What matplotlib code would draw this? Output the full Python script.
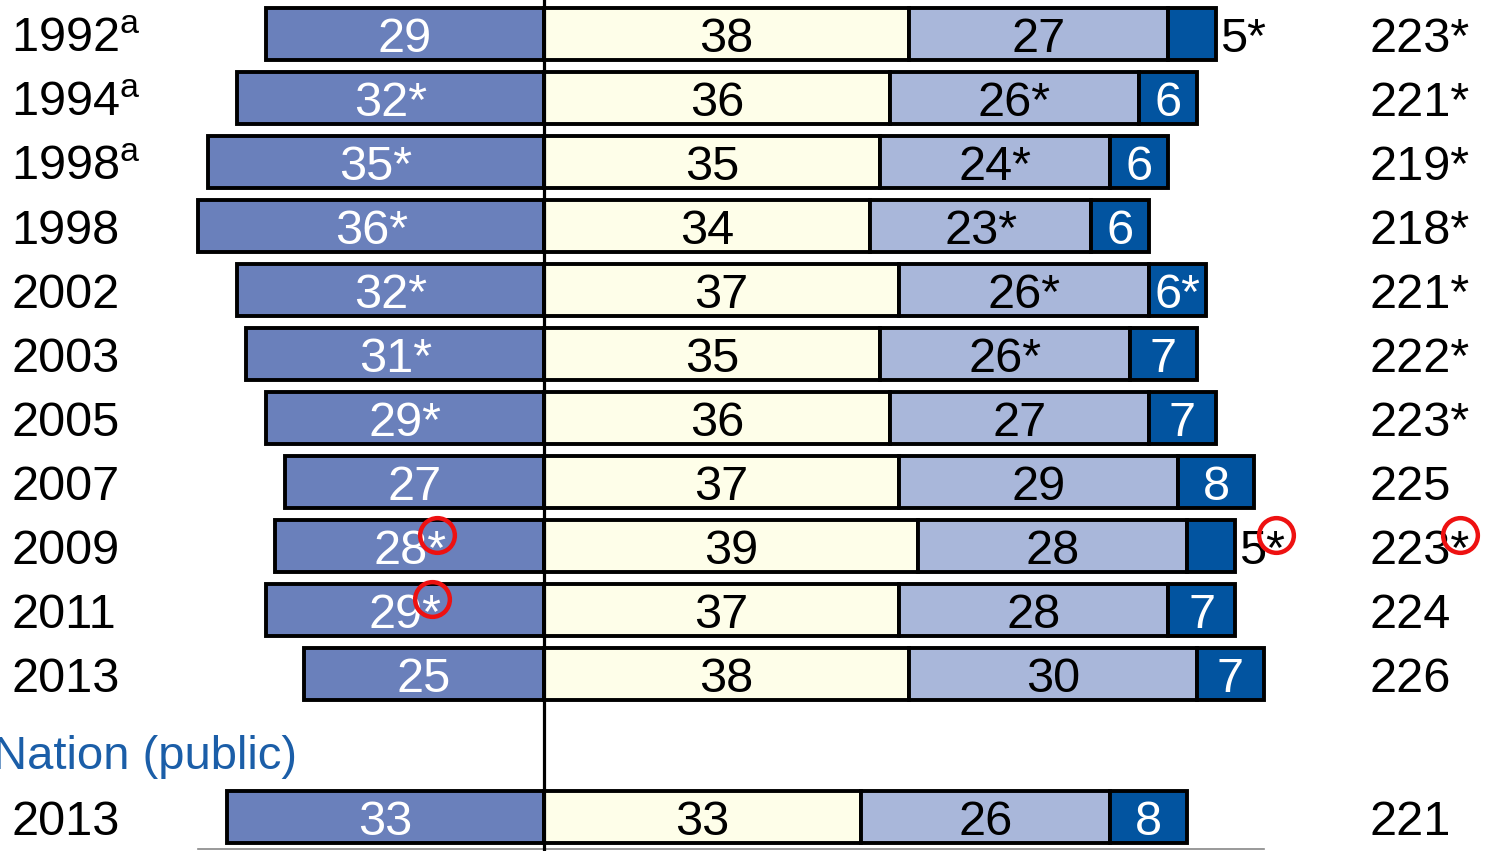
import matplotlib
matplotlib.use('Agg')
import matplotlib.pyplot as plt

plt.rcParams['font.family'] = ['Liberation Sans', 'DejaVu Sans']
plt.rcParams['mathtext.default'] = 'regular'

# achievement-level percentages per year (last row = Nation (public) 2013)
years = ['1992$^{a}$', '1994$^{a}$', '1998$^{a}$', '1998', '2002', '2003', '2005',
         '2007', '2009', '2011', '2013', '2013']
below_basic = [29, 32, 35, 36, 32, 31, 29, 27, 28, 29, 25, 33]
basic = [38, 36, 35, 34, 37, 35, 36, 37, 39, 37, 38, 33]
proficient = [27, 26, 24, 23, 26, 26, 27, 29, 28, 28, 30, 26]
advanced = [5, 6, 6, 6, 6, 7, 7, 8, 5, 7, 7, 8]
scores = [223, 221, 219, 218, 221, 222, 223, 225, 223, 224, 226, 221]

# significance flags (*)
below_sig = [0, 1, 1, 1, 1, 1, 1, 0, 1, 1, 0, 0]
prof_sig = [0, 1, 1, 1, 1, 1, 0, 0, 0, 0, 0, 0]
adv_sig = [1, 0, 0, 0, 1, 0, 0, 0, 1, 0, 0, 0]
score_sig = [1, 1, 1, 1, 1, 1, 1, 0, 1, 0, 0, 0]

# which starred cells get a red circle (row index)
circled_below = [8, 9]
circled_adv = [8]
circled_score = [8]

c_below = '#6a80bb'
c_basic = '#fefee9'
c_prof = '#a9b7da'
c_adv = '#0254a0'
c_nation = '#1b5ea8'

W, H = 1488, 851
px_per_pct = 9.6
x0 = 544          # pixel position of the zero line
row_px = 64
top_px = 34

fig = plt.figure(figsize=(W / 100, H / 100), dpi=100)
ax = fig.add_axes([0, 0, 1, 1])
ax.set_xlim(-x0 / px_per_pct, (W - x0) / px_per_pct)
ax.set_ylim((H - top_px) / row_px, -top_px / row_px)
ax.axis('off')

ypos = list(range(11)) + [(817 - top_px) / row_px]
fs = 35
base_off = 0.275   # baseline offset below row centre

def lab(v, s):
    return f'{v}*' if s else str(v)

h = 0.8
lw = 2.8
right = [b + p + a for b, p, a in zip(basic, proficient, advanced)]
ax.barh(ypos, below_basic, left=[-v for v in below_basic], height=h,
        color=c_below, edgecolor='black', lw=lw)
ax.barh(ypos, basic, left=0, height=h, color=c_basic, edgecolor='black', lw=lw)
ax.barh(ypos, proficient, left=basic, height=h, color=c_prof, edgecolor='black', lw=lw)
ax.barh(ypos, advanced, left=[b + p for b, p in zip(basic, proficient)], height=h,
        color=c_adv, edgecolor='black', lw=lw)

ax.axvline(0, color='black', lw=2.3, zorder=6)
ax.plot([-max(below_basic), max(right)], [(849 - top_px) / row_px] * 2,
        color='#888888', lw=1.2, clip_on=False)

texts_below, texts_adv, texts_score = {}, {}, {}
for i, y in enumerate(ypos):
    yb = y + base_off
    ax.text(-55.5, yb, years[i], fontsize=fs, ha='left', va='baseline')
    texts_below[i] = ax.text(-below_basic[i] / 2, yb, lab(below_basic[i], below_sig[i]),
                             fontsize=fs, color='white', ha='center', va='baseline', zorder=7)
    ax.text(basic[i] / 2, yb, lab(basic[i], 0), fontsize=fs, ha='center',
            va='baseline', zorder=7)
    ax.text(basic[i] + proficient[i] / 2, yb, lab(proficient[i], prof_sig[i]),
            fontsize=fs, ha='center', va='baseline', zorder=7)
    a_left = basic[i] + proficient[i]
    if advanced[i] <= 5:
        texts_adv[i] = ax.text(right[i] + 0.4, yb, lab(advanced[i], adv_sig[i]),
                               fontsize=fs, ha='left', va='baseline', zorder=7)
    else:
        texts_adv[i] = ax.text(a_left + advanced[i] / 2, yb, lab(advanced[i], adv_sig[i]),
                               fontsize=fs, color='white', ha='center', va='baseline', zorder=7)
    texts_score[i] = ax.text(86.0, yb, lab(scores[i], score_sig[i]), fontsize=fs,
                             ha='left', va='baseline')

ax.text((297 - x0) / px_per_pct, (753 - top_px) / row_px + 0.25, 'Nation (public)',
        fontsize=34, color=c_nation, ha='right', va='baseline')

# red circles around selected asterisks
fig.canvas.draw()
r = fig.canvas.get_renderer()
tmp = ax.text(0, 0, '*', fontsize=fs)
star_w = tmp.get_window_extent(r).width
tmp.remove()
inv = ax.transData.inverted()
targets = [texts_below[i] for i in circled_below] + \
          [texts_adv[i] for i in circled_adv] + \
          [texts_score[i] for i in circled_score]
for t in targets:
    bb = t.get_window_extent(r)
    ty = t.get_position()[1] - base_off
    cy_disp = ax.transData.transform((0, ty))[1] + 11
    cx, cy = inv.transform((bb.x1 - star_w / 2, cy_disp))
    ax.plot(cx, cy, marker='o', ms=25, mfc='none', mec='#ee1111', mew=3.2,
            zorder=8, clip_on=False)

fig.savefig('out.png', dpi=100)
